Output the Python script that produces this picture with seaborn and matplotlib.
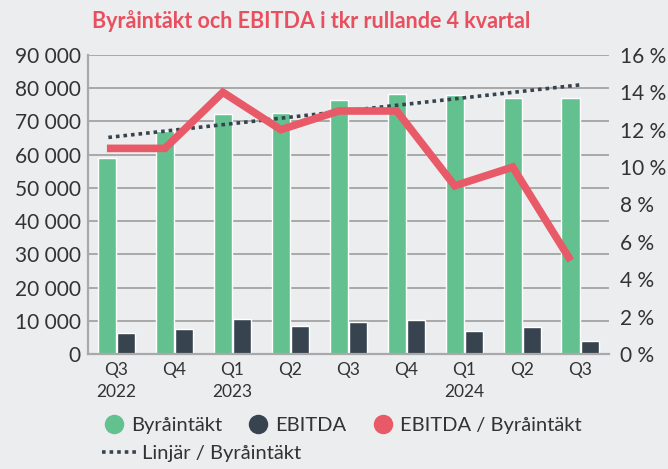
import numpy as np
import pandas as pd
import matplotlib
matplotlib.use("Agg")
import matplotlib.pyplot as plt
from matplotlib.lines import Line2D
from matplotlib.ticker import FuncFormatter, MultipleLocator
import seaborn as sns

# ── Data ──────────────────────────────────────────────────────────────────────
quarters = ["Q3\n2022", "Q4", "Q1\n2023", "Q2", "Q3", "Q4", "Q1\n2024", "Q2", "Q3"]
byraintakt = [59000, 67200, 72300, 72400, 76500, 78300, 78000, 77100, 76900]
ebitda = [6300, 7500, 10500, 8500, 9700, 10200, 6900, 8200, 3900]
ebitda_pct = [11, 11, 14, 12, 13, 13, 9, 10, 5]

GREEN = "#63c18f"
DARK = "#37444f"
RED = "#e85a68"
BG = "#ecedef"
GRID = "#a9a9a9"
TXT = "#333333"

sns.set_theme(style="white")
plt.rcParams["font.family"] = ["Lato", "DejaVu Sans"]

n = len(quarters)
pos = np.arange(n)
df = pd.DataFrame({
    "idx": list(pos) * 2,
    "serie": ["Byråintäkt"] * n + ["EBITDA"] * n,
    "tkr": byraintakt + ebitda,
})

fig = plt.figure(figsize=(6.68, 4.69), dpi=100, facecolor=BG)
ax = fig.add_axes([0.131, 0.245, 0.781, 0.638], facecolor=BG)

sns.barplot(data=df, x="idx", y="tkr", hue="serie",
            palette=[GREEN, DARK], width=0.66, gap=0.04,
            legend=False, ax=ax, saturation=1, errorbar=None)

# linear trend over revenue
x_trend = np.linspace(-0.14, 8.0, n)
sns.regplot(x=x_trend, y=np.array(byraintakt), scatter=False, ci=None, ax=ax,
            line_kws=dict(color=DARK, lw=2.6, ls=(0, (1, 1.1)), zorder=3))

ax.set_xlim(-0.5, 8.5)
ax.set_ylim(0, 90000)
ax.yaxis.set_major_locator(MultipleLocator(10000))
ax.yaxis.set_major_formatter(FuncFormatter(lambda v, _: f"{int(v):,}".replace(",", " ")))
ax.grid(axis="y", color=GRID, lw=1.4)
ax.set_axisbelow(True)
ax.set_xlabel("")
ax.set_ylabel("")
for s in ["top", "right"]:
    ax.spines[s].set_visible(False)
for s in ["left", "bottom"]:
    ax.spines[s].set_color(GRID)
    ax.spines[s].set_linewidth(1.6)
ax.tick_params(axis="y", length=0, labelsize=15, labelcolor=TXT, pad=5)
ax.set_xticks(pos, quarters)
ax.tick_params(axis="x", length=0, labelsize=12.5, labelcolor=TXT, pad=6)
for lab in ax.get_xticklabels():
    lab.set_linespacing(1.45)
ax.set_xticks(pos[:-1] + 0.5, minor=True)
ax.tick_params(axis="x", which="minor", direction="in", length=7, width=1.4, color=GRID)

# EBITDA margin on secondary axis
ax2 = ax.twinx()
sns.lineplot(x=pos - 0.165, y=ebitda_pct, ax=ax2, color=RED, lw=5.5,
             legend=False)
ax2.lines[0].set_solid_joinstyle("miter")
ax2.lines[0].set_solid_capstyle("butt")
ax2.set_ylim(0, 16)
ax2.yaxis.set_major_locator(MultipleLocator(2))
ax2.yaxis.set_major_formatter(FuncFormatter(lambda v, _: f"{int(v)} %"))
ax2.tick_params(axis="y", length=0, labelsize=15, labelcolor=TXT, pad=8)
for s in ax2.spines.values():
    s.set_visible(False)
ax2.set_ylabel("")

fig.text(0.466, 0.955, "Byråintäkt och EBITDA i tkr rullande 4 kvartal",
         ha="center", va="center", color="#e8505f", fontsize=15.5, fontweight="bold")

dot = lambda c: Line2D([], [], ls="", marker="o", ms=13, color=c)
leg1 = fig.legend([dot(GREEN), dot(DARK), dot(RED)],
                  ["Byråintäkt", "EBITDA", "EBITDA / Byråintäkt"],
                  ncol=3, loc="center left", bbox_to_anchor=(0.155, 0.093),
                  frameon=False, fontsize=14.5, handlelength=1.0, handletextpad=0.35,
                  columnspacing=1.3, borderaxespad=0, borderpad=0)
leg2 = fig.legend([Line2D([], [], color=DARK, lw=2.6, ls=(0, (1, 1.1)))],
                  ["Linjär / Byråintäkt"],
                  loc="center left", bbox_to_anchor=(0.152, 0.034),
                  frameon=False, fontsize=14.5, handlelength=1.7, handletextpad=0.3,
                  borderaxespad=0, borderpad=0)
for t in leg1.get_texts() + leg2.get_texts():
    t.set_color(TXT)

fig.savefig("out.png", dpi=100, facecolor=BG)
